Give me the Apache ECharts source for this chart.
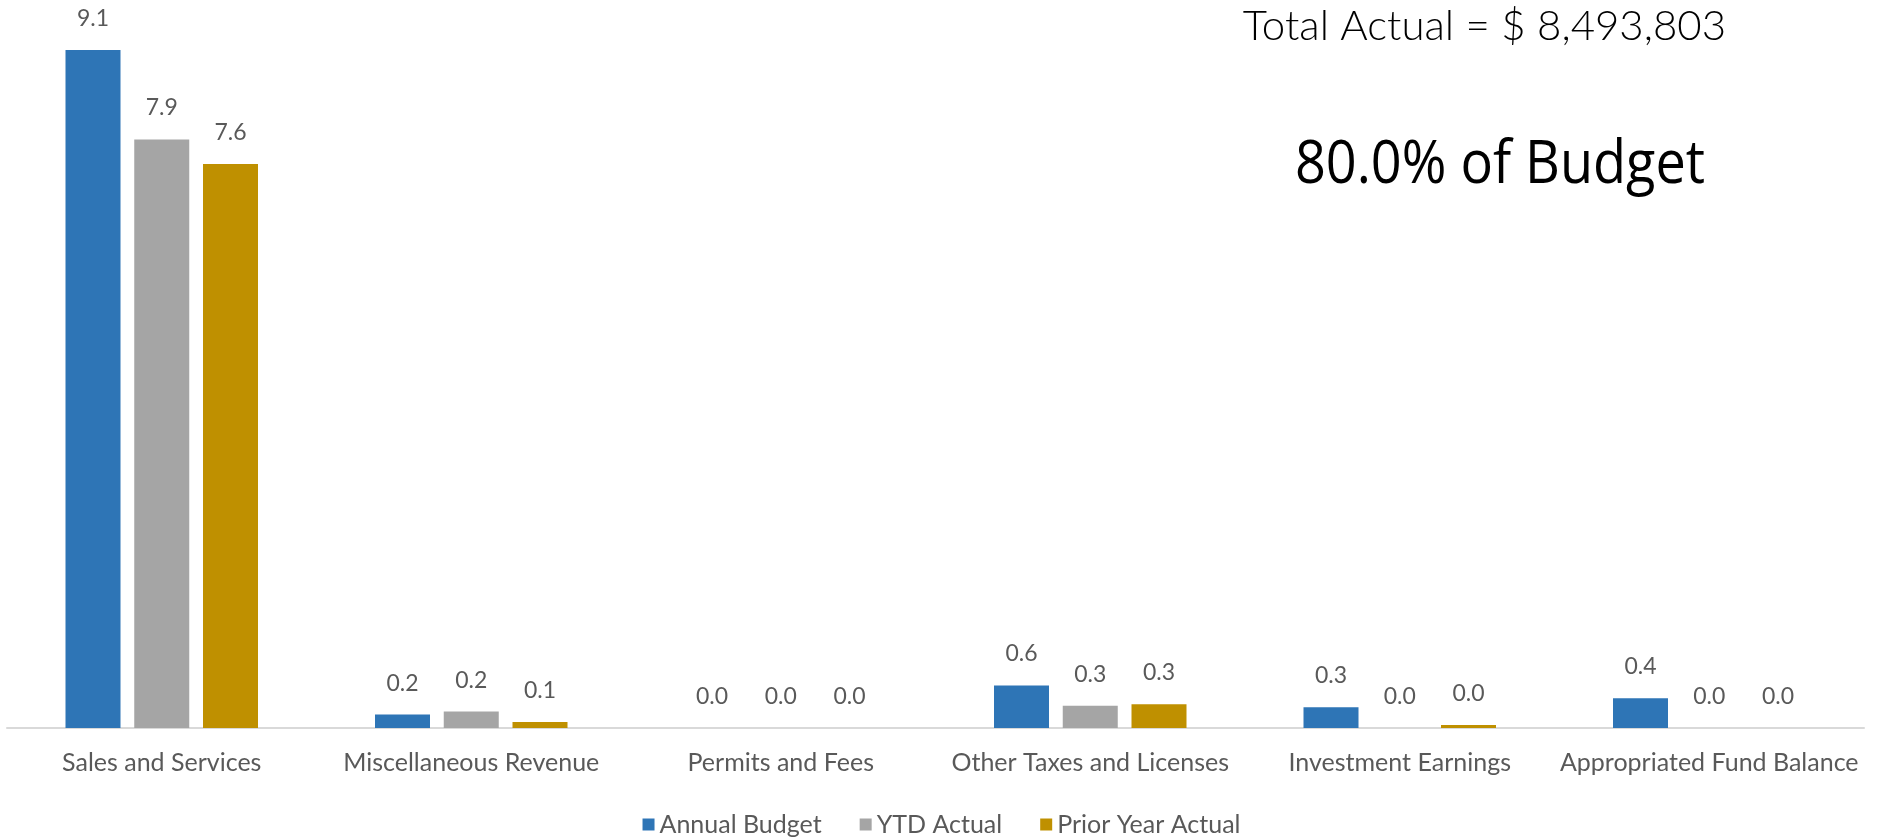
<!DOCTYPE html>
<html>
<head>
<meta charset="utf-8">
<script src="https://cdn.jsdelivr.net/npm/echarts@6/dist/echarts.min.js"></script>
<style>
  html, body { margin: 0; padding: 0; background: #ffffff; }
  #chart { width: 1883px; height: 840px; }
</style>
</head>
<body>
<div id="chart"></div>
<script>
// Revenue by source, in millions of dollars
const categories = [
  'Sales and Services',
  'Miscellaneous Revenue',
  'Permits and Fees',
  'Other Taxes and Licenses',
  'Investment Earnings',
  'Appropriated Fund Balance'
];
const annualBudget = [9.10, 0.18, 0.00, 0.57, 0.28, 0.40];
const ytdActual = [7.90, 0.22, 0.00, 0.30, 0.00, 0.00];
const priorYearActual = [7.57, 0.08, 0.00, 0.32, 0.04, 0.00];
const seriesNames = ['Annual Budget', 'YTD Actual', 'Prior Year Actual'];
const totalActualText = 'Total Actual = $ 8,493,803';
const budgetShareText = '80.0% of Budget';

const colors = ['#2E75B6', '#A5A5A5', '#BF9000'];
const labelFont = 'Lato, "Open Sans", sans-serif';

function barSeries(name, data, color) {
  return {
    name: name,
    type: 'bar',
    data: data,
    barWidth: 55,
    barGap: '25%',
    itemStyle: { color: color },
    label: {
      show: true,
      position: 'top',
      distance: 20,
      color: '#595959',
      fontFamily: labelFont,
      fontSize: 23,
      formatter: p => p.value.toFixed(1)
    }
  };
}

const chart = echarts.init(document.getElementById('chart'), null, { renderer: 'canvas' });
chart.setOption({
  backgroundColor: '#ffffff',
  animation: false,
  color: colors,
  grid: { left: 7, right: 19, top: 50, bottom: 112, containLabel: false },
  legend: {
    top: 807,
    left: 'center',
    itemWidth: 12,
    itemHeight: 12,
    itemGap: 38,
    icon: 'rect',
    textStyle: { color: '#595959', fontFamily: labelFont, fontSize: 25 },
    data: seriesNames
  },
  xAxis: {
    type: 'category',
    data: categories,
    axisLine: { lineStyle: { color: '#D9D9D9', width: 2 } },
    axisTick: { show: false },
    axisLabel: {
      color: '#595959',
      fontFamily: labelFont,
      fontSize: 25,
      margin: 22,
      interval: 0
    }
  },
  yAxis: {
    type: 'value',
    min: 0,
    max: 'dataMax',
    show: false,
    splitLine: { show: false }
  },
  series: [
    barSeries(seriesNames[0], annualBudget, colors[0]),
    barSeries(seriesNames[1], ytdActual, colors[1]),
    barSeries(seriesNames[2], priorYearActual, colors[2])
  ],
  graphic: [
    {
      type: 'text',
      style: {
        text: totalActualText,
        x: 1726,
        y: 26,
        align: 'right',
        verticalAlign: 'middle',
        fill: '#000000',
        font: '300 42px Lato, "Open Sans", sans-serif'
      }
    },
    {
      type: 'text',
      originX: 1705,
      originY: 166,
      scaleX: 0.9,
      style: {
        text: budgetShareText,
        x: 1705,
        y: 166,
        align: 'right',
        verticalAlign: 'middle',
        fill: '#000000',
        font: '60px "Open Sans", "Noto Sans", sans-serif'
      }
    }
  ]
});
</script>
</body>
</html>
